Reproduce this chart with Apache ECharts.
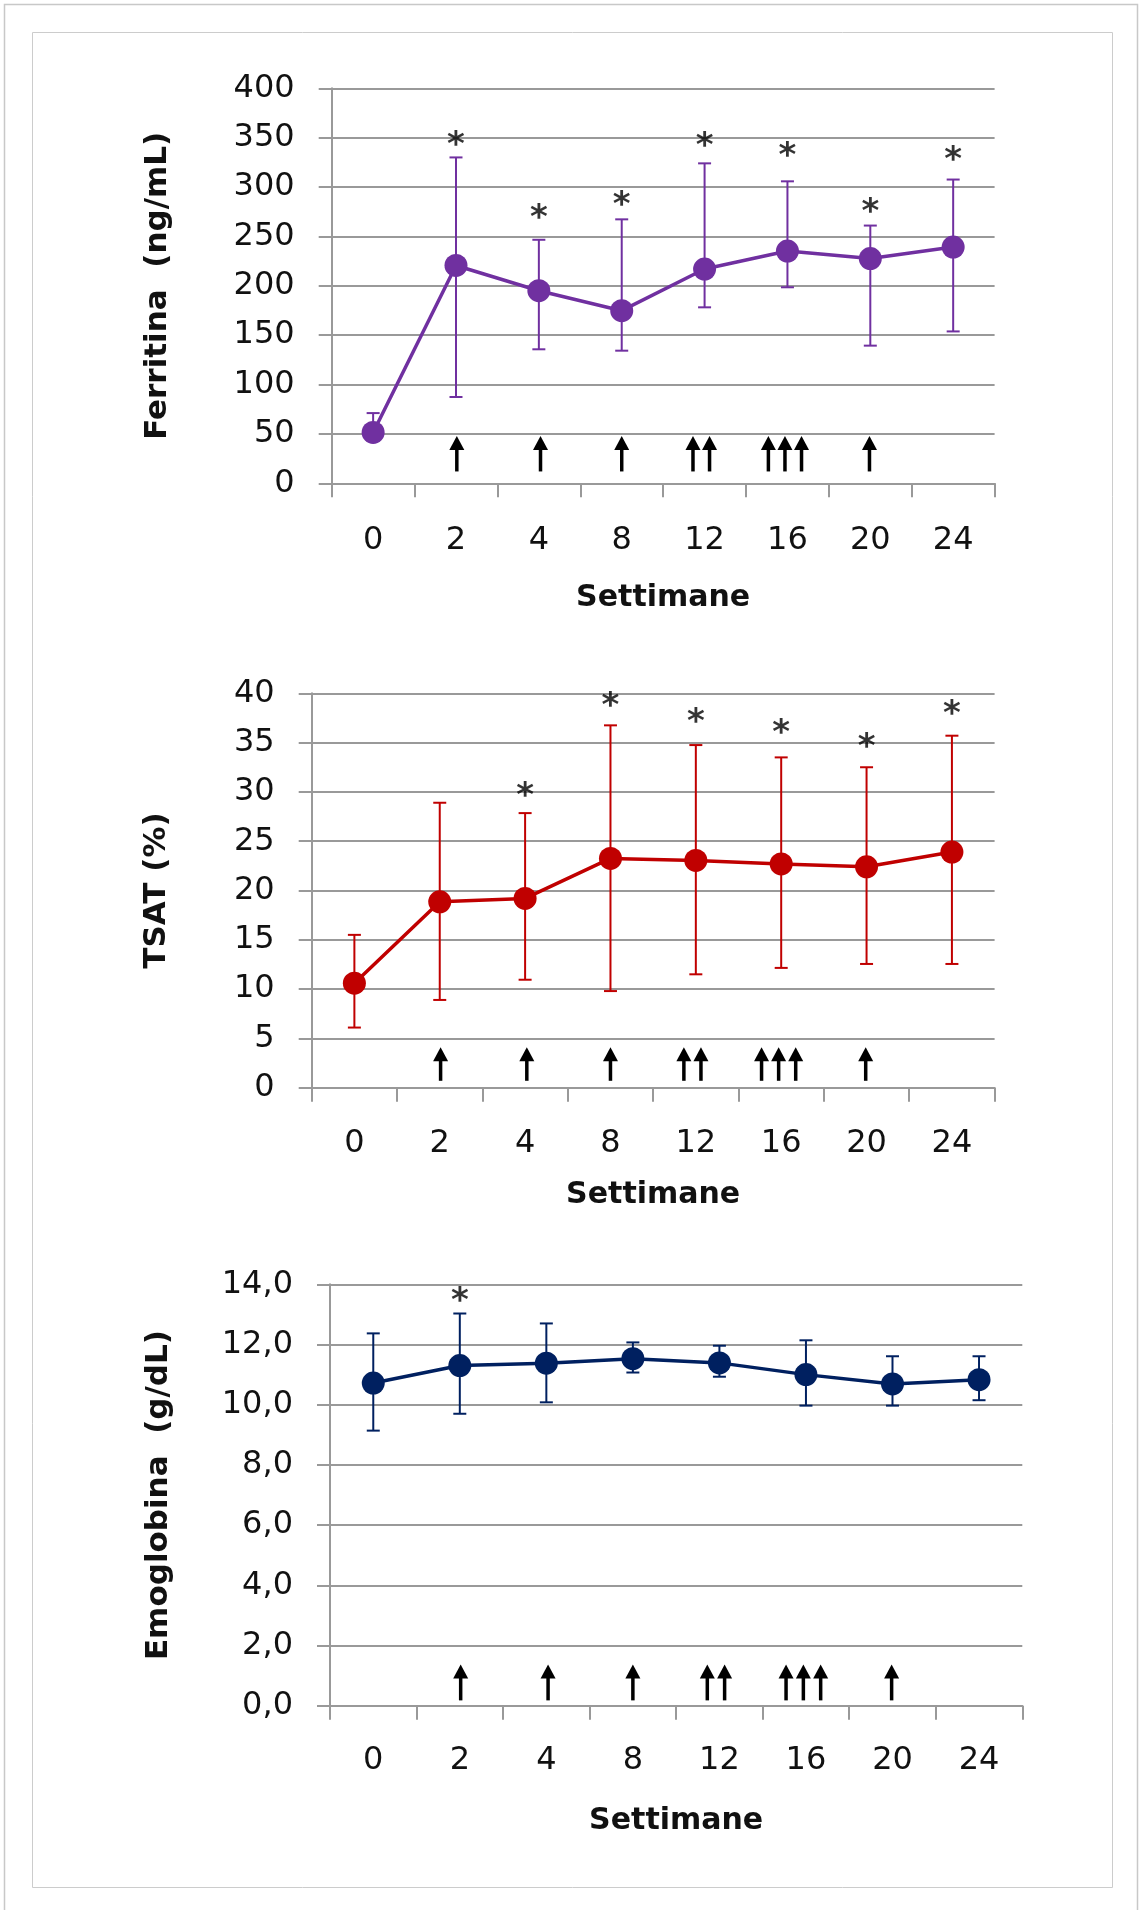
<!DOCTYPE html>
<html><head><meta charset="utf-8">
<script src="https://cdn.jsdelivr.net/npm/echarts@6/dist/echarts.min.js"></script>
<style>html,body{margin:0;padding:0;background:#fff}#c{width:1145px;height:1910px}</style>
</head><body><div id="c"></div>
<script>
// ---- data ----
const weeks = ['0', '2', '4', '8', '12', '16', '20', '24'];

const ferritinMean  = [51.5, 220.6, 195.0, 174.8, 217.0, 235.2, 227.6, 239.2];
const ferritinUpper = [71.1, 330.0, 246.6, 267.3, 324.0, 305.8, 261.0, 307.6];
const ferritinLower = [43.0, 87.4, 135.7, 134.3, 178.2, 198.5, 139.4, 153.8];
const ferritinStar  = ['-', 350, 276, 288.6, 348.7, 338.2, 282, 334];

const tsatMean  = [10.6, 18.85, 19.2, 23.25, 23.05, 22.7, 22.4, 23.9];
const tsatUpper = [15.5, 28.9, 27.85, 36.75, 34.75, 33.5, 32.5, 35.7];
const tsatLower = [6.1, 8.9, 10.95, 9.8, 11.5, 12.15, 12.55, 12.55];
const tsatStar  = ['-', '-', 30.3, 39.4, 37.8, 36.7, 35.2, 38.6];

const hbMean  = [10.72, 11.3, 11.38, 11.53, 11.39, 11.0, 10.69, 10.83];
const hbUpper = [12.37, 13.03, 12.7, 12.07, 11.96, 12.14, 11.61, 11.61];
const hbLower = [9.14, 9.7, 10.08, 11.07, 10.93, 9.97, 9.97, 10.15];
const hbStar  = ['-', 13.67, '-', '-', '-', '-', '-', '-'];

// administration arrows: positions on the week (category index) scale
const arrowPositions = [1.01, 2.02, 3.0, 3.86, 4.06, 4.77, 4.97, 5.17, 5.99];
const ferritinArrowSpan = [12, 48];
const tsatArrowSpan = [0.7, 4.1];
const hbArrowSpan = [0.18, 1.37];

const yTicksFerritin = {min: 0, max: 400, interval: 50};
const yTicksTsat = {min: 0, max: 40, interval: 5};
const yTicksHb = {min: 0, max: 14, interval: 2};

// ---- layout / style ----
const FONT = 'DejaVu Sans';
const GRID_COLOR = '#999999';
const TEXT_COLOR = '#111111';

const panels = [
  {yName: 'Ferritina  (ng/mL)', color: '#7030A0', mean: ferritinMean, upper: ferritinUpper, lower: ferritinLower,
   star: ferritinStar, arrowSpan: ferritinArrowSpan, ticks: yTicksFerritin, fmt: v => String(v),
   grid: {left: 331.7, right: 150.4, top: 88.3, height: 395},
   yNameGap: 158, xNameGap: 100, xLabelMargin: 41, yLabelMargin: 37},
  {yName: 'TSAT (%)', color: '#C00000', mean: tsatMean, upper: tsatUpper, lower: tsatLower,
   star: tsatStar, arrowSpan: tsatArrowSpan, ticks: yTicksTsat, fmt: v => String(v),
   grid: {left: 311.7, right: 150.4, top: 693.3, height: 394.4},
   yNameGap: 139, xNameGap: 93, xLabelMargin: 40, yLabelMargin: 37},
  {yName: 'Emoglobina  (g/dL)', color: '#002060', mean: hbMean, upper: hbUpper, lower: hbLower,
   star: hbStar, arrowSpan: hbArrowSpan, ticks: yTicksHb, fmt: v => v.toFixed(1).replace('.', ','),
   grid: {left: 330, right: 122.7, top: 1284.3, height: 421.5},
   yNameGap: 156, xNameGap: 100, xLabelMargin: 39, yLabelMargin: 37}
];

const grids = [], xAxes = [], yAxes = [], series = [];

panels.forEach((p, i) => {
  grids.push(Object.assign({containLabel: false}, p.grid));
  // category axis (index 2i)
  xAxes.push({
    type: 'category', gridIndex: i, data: weeks, boundaryGap: true,
    name: 'Settimane', nameLocation: 'middle', nameGap: p.xNameGap,
    nameTextStyle: {fontFamily: FONT, fontWeight: 'bold', fontSize: 30, color: TEXT_COLOR},
    axisLine: {show: true, lineStyle: {color: GRID_COLOR, width: 2}},
    axisTick: {show: true, length: 14, interval: 0, alignWithLabel: false, lineStyle: {color: GRID_COLOR, width: 2}},
    axisLabel: {fontFamily: FONT, fontSize: 32, color: TEXT_COLOR, margin: p.xLabelMargin, interval: 0},
    splitLine: {show: false}
  });
  // hidden value axis for arrow placement (index 2i+1)
  xAxes.push({
    type: 'value', gridIndex: i, min: -0.5, max: 7.5, show: false,
    splitLine: {show: false}
  });
  yAxes.push({
    type: 'value', gridIndex: i, min: p.ticks.min, max: p.ticks.max, interval: p.ticks.interval,
    name: p.yName, nameLocation: 'middle', nameRotate: 90, nameGap: p.yNameGap,
    nameTextStyle: {fontFamily: FONT, fontWeight: 'bold', fontSize: 31, color: TEXT_COLOR},
    axisLine: {show: true, onZero: false, lineStyle: {color: GRID_COLOR, width: 2}},
    axisTick: {show: true, length: 13, lineStyle: {color: GRID_COLOR, width: 2}},
    axisLabel: {fontFamily: FONT, fontSize: 32, color: TEXT_COLOR, margin: p.yLabelMargin, formatter: p.fmt},
    splitLine: {show: true, lineStyle: {color: GRID_COLOR, width: 2}}
  });

  const color = p.color;
  // error bars
  series.push({
    type: 'custom', xAxisIndex: 2 * i, yAxisIndex: i, z: 2,
    data: weeks.map((w, k) => [k, p.lower[k], p.upper[k]]),
    encode: {x: 0, y: [1, 2]},
    renderItem: (params, api) => {
      const x = api.value(0);
      const lo = api.coord([x, api.value(1)]);
      const hi = api.coord([x, api.value(2)]);
      const hw = 6.5;
      const st = {stroke: color, lineWidth: 2};
      return {type: 'group', children: [
        {type: 'line', shape: {x1: lo[0], y1: lo[1], x2: hi[0], y2: hi[1]}, style: st},
        {type: 'line', shape: {x1: hi[0] - hw, y1: hi[1], x2: hi[0] + hw, y2: hi[1]}, style: st},
        {type: 'line', shape: {x1: lo[0] - hw, y1: lo[1], x2: lo[0] + hw, y2: lo[1]}, style: st}
      ]};
    }
  });
  // mean line
  series.push({
    type: 'line', xAxisIndex: 2 * i, yAxisIndex: i, z: 3,
    data: p.mean, symbol: 'circle', symbolSize: 23,
    lineStyle: {color: color, width: 3.5},
    itemStyle: {color: color},
    emphasis: {disabled: true}
  });
  // significance asterisks
  series.push({
    type: 'scatter', xAxisIndex: 2 * i, yAxisIndex: i, z: 4,
    data: p.star, symbolSize: 1, itemStyle: {color: 'rgba(0,0,0,0)'},
    label: {show: true, position: 'inside', formatter: '*', fontFamily: FONT, fontWeight: 'bold',
            fontSize: 34, color: '#000', offset: [0, 8]},
    emphasis: {disabled: true}
  });
  // arrows
  series.push({
    type: 'custom', xAxisIndex: 2 * i + 1, yAxisIndex: i, z: 4,
    data: arrowPositions.map(x => [x, p.arrowSpan[0], p.arrowSpan[1]]),
    encode: {x: 0, y: [1, 2]},
    renderItem: (params, api) => {
      const b = api.coord([api.value(0), api.value(1)]);
      const t = api.coord([api.value(0), api.value(2)]);
      const hw = 7.5, hh = 14;
      return {type: 'group', children: [
        {type: 'line', shape: {x1: b[0], y1: b[1], x2: t[0], y2: t[1] + hh - 1}, style: {stroke: '#000', lineWidth: 3.5}},
        {type: 'polygon', shape: {points: [[t[0], t[1]], [t[0] - hw, t[1] + hh], [t[0] + hw, t[1] + hh]]}, style: {fill: '#000'}}
      ]};
    }
  });
});

const chart = echarts.init(document.getElementById('c'), null, {renderer: 'canvas'});
chart.setOption({
  backgroundColor: '#ffffff',
  animation: false,
  graphic: [
    {type: 'rect', silent: true, shape: {x: 4.5, y: 4.5, width: 1133, height: 1920},
     style: {fill: null, stroke: '#c8c8c8', lineWidth: 1.5}},
    {type: 'rect', silent: true, shape: {x: 32.5, y: 32.5, width: 1080, height: 1855},
     style: {fill: null, stroke: '#cccccc', lineWidth: 1}}
  ],
  grid: grids,
  xAxis: xAxes,
  yAxis: yAxes,
  series: series
});
</script>
</body></html>
